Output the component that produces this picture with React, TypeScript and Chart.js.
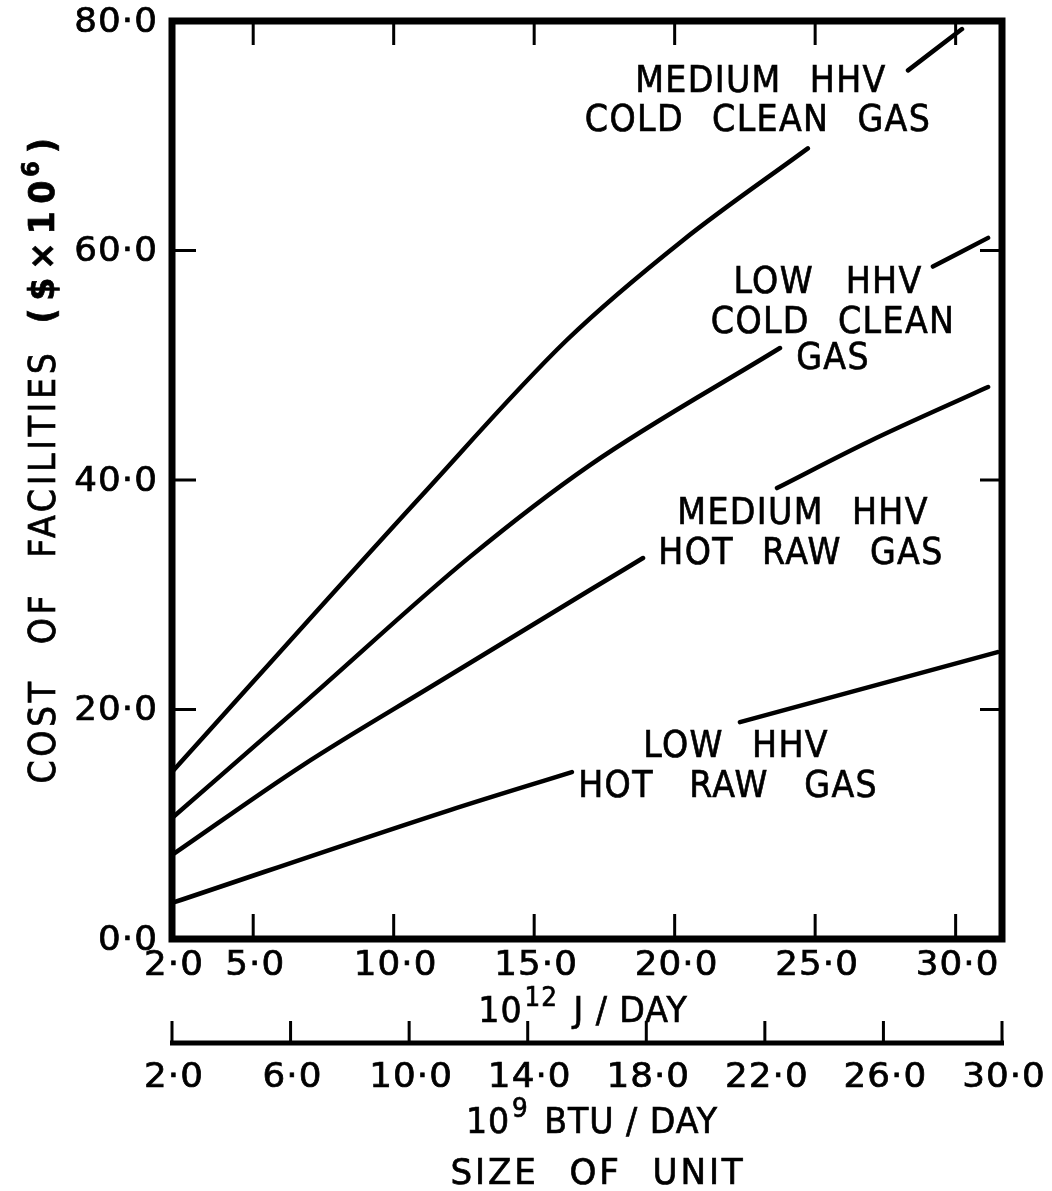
import React, { useEffect, useRef } from "react";
import { Chart, registerables } from "chart.js";

Chart.register(...registerables);

// ---- axis ranges & ticks ----
const BTU_MIN = 2;
const BTU_MAX = 30;
const J_PER_BTU = 1.055; // 10^9 BTU/day -> 10^12 J/day
const costTicks = [0, 20, 40, 60, 80];
const costTickLabels = ["0·0", "20·0", "40·0", "60·0", "80·0"];
const jTicks = [5, 10, 15, 20, 25, 30];
const jTickLabels = ["5·0", "10·0", "15·0", "20·0", "25·0", "30·0"];
const btuTicks = [2, 6, 10, 14, 18, 22, 26, 30];
const btuTickLabels = ["2·0", "6·0", "10·0", "14·0", "18·0", "22·0", "26·0", "30·0"];

// ---- series (x: 10^9 BTU/day, y: $ x 10^6); null = gap where the label sits ----
const medColdX = [2, 10.37, 15.32, 19.24, 23.45, 25.1, 26.83, 28.65];
const medColdY = [14.55, 38.5, 52.2, 60.9, 68.9, null, 75.7, 79.3];

const lowColdX = [2, 6.55, 12.05, 16.1, 22.51, 25.1, 27.67, 29.53];
const lowColdY = [10.54, 20.8, 33.3, 41.3, 51.5, null, 58.6, 61.1];

const medHotX = [2, 6.42, 10.94, 16.1, 17.89, 20.1, 22.41, 25.55, 29.53];
const medHotY = [7.32, 15.16, 22.31, 30.41, 33.2, null, 39.3, 43.4, 48.1];

const lowHotX = [2, 11.38, 15.49, 18.3, 21.16, 29.85];
const lowHotY = [3.14, 11.24, 14.55, null, 18.9, 25.0];

// ---- curve labels (anchor in data units) ----
const curveLabels = [
  { x: 21.87, y: 74.68, text: "MEDIUM HHV", ws: 18 },
  { x: 21.77, y: 71.29, text: "COLD CLEAN GAS", ws: 18 },
  { x: 24.13, y: 57.17, text: "LOW HHV", ws: 22 },
  { x: 24.3, y: 53.68, text: "COLD CLEAN", ws: 18 },
  { x: 24.3, y: 50.55, text: "GAS", ws: 18 },
  { x: 23.29, y: 37.04, text: "MEDIUM HHV", ws: 18 },
  { x: 23.22, y: 33.55, text: "HOT RAW GAS", ws: 18 },
  { x: 21.03, y: 16.73, text: "LOW HHV", ws: 18 },
  { x: 20.76, y: 13.25, text: "HOT RAW GAS", ws: 26 },
];

const FONT = "'DejaVu Sans', 'Liberation Sans', sans-serif";

function pts(xs: number[], ys: (number | null)[]) {
  return xs.map((x, i) => ({ x, y: ys[i] }));
}

type TOpt = {
  size: number;
  sx?: number;
  bold?: boolean;
  ls?: number;
  ws?: number;
  align?: "left" | "center" | "right";
  baseline?: "middle" | "alphabetic";
  stroke?: number;
};

function setFont(ctx: any, o: TOpt) {
  ctx.font = `${o.bold ? "bold " : ""}${o.size}px ${FONT}`;
  try {
    ctx.letterSpacing = (o.ls || 0) + "px";
    ctx.wordSpacing = (o.ws || 0) + "px";
  } catch (e) {}
}

function measure(ctx: any, s: string, o: TOpt) {
  ctx.save();
  setFont(ctx, o);
  const w = ctx.measureText(s).width * (o.sx || 1);
  ctx.restore();
  return w;
}

function txt(ctx: any, s: string, x: number, y: number, o: TOpt) {
  ctx.save();
  ctx.translate(x, y);
  ctx.scale(o.sx || 1, 1);
  setFont(ctx, o);
  ctx.textAlign = o.align || "center";
  ctx.textBaseline = o.baseline || "middle";
  ctx.fillText(s, 0, 0);
  const st = o.stroke === undefined ? 0.7 : o.stroke;
  if (st > 0) {
    ctx.lineWidth = st;
    ctx.strokeText(s, 0, 0);
  }
  ctx.restore();
}

const TICK: TOpt = { size: 34, sx: 1.05, ls: 1 };
const LAB: TOpt = { size: 37, sx: 0.9, ls: 1.5, ws: 18 };

const decorPlugin = {
  id: "decor",
  afterDraw(chart: any) {
    const { ctx, chartArea: a, scales } = chart;
    const xs = scales.x;
    const ys = scales.y;
    const xj = scales.xJ;
    ctx.save();
    ctx.strokeStyle = "#000";
    ctx.fillStyle = "#000";
    ctx.lineCap = "butt";

    // frame
    ctx.lineWidth = 7;
    ctx.strokeRect(a.left, a.top, a.right - a.left, a.bottom - a.top);

    // inward ticks
    ctx.lineWidth = 3;
    ctx.beginPath();
    for (const v of jTicks) {
      const px = xj.getPixelForValue(v);
      ctx.moveTo(px, a.bottom);
      ctx.lineTo(px, a.bottom - 25);
      ctx.moveTo(px, a.top);
      ctx.lineTo(px, a.top + 24);
    }
    for (const v of costTicks.slice(1, -1)) {
      const py = ys.getPixelForValue(v);
      ctx.moveTo(a.left, py);
      ctx.lineTo(a.left + 24, py);
      ctx.moveTo(a.right, py);
      ctx.lineTo(a.right - 22, py);
    }
    ctx.stroke();

    // y tick labels
    costTicks.forEach((v, i) => {
      txt(ctx, costTickLabels[i], a.left - 14, ys.getPixelForValue(v) + 2, { ...TICK, align: "right" });
    });

    // J axis tick labels
    txt(ctx, "2·0", xs.getPixelForValue(BTU_MIN) + 2, a.bottom + 27, TICK);
    jTicks.forEach((v, i) => {
      txt(ctx, jTickLabels[i], xj.getPixelForValue(v) + 2, a.bottom + 27, TICK);
    });

    // power-of-ten titles
    const drawPower = (base: string, exp: string, rest: string, cx: number, baseY: number) => {
      const ob: TOpt = { size: 35, sx: 0.95, ls: 1, ws: 14, align: "left", baseline: "alphabetic" };
      const oe: TOpt = { size: 26, sx: 0.95, ls: 1, align: "left", baseline: "alphabetic" };
      const wb = measure(ctx, base, ob);
      const we = measure(ctx, exp, oe);
      const wr = measure(ctx, rest, ob);
      let x0 = cx - (wb + we + wr + 6) / 2;
      txt(ctx, base, x0, baseY, ob);
      txt(ctx, exp, x0 + wb + 2, baseY - 16, oe);
      txt(ctx, rest, x0 + wb + we + 6, baseY, ob);
    };
    drawPower("10", "12", " J / DAY", 583, 1022);

    // BTU axis
    const btuY = 1043;
    const bl = xs.getPixelForValue(BTU_MIN);
    const br = xs.getPixelForValue(BTU_MAX);
    ctx.lineWidth = 5;
    ctx.beginPath();
    ctx.moveTo(bl - 2, btuY);
    ctx.lineTo(br + 2, btuY);
    ctx.stroke();
    ctx.lineWidth = 3;
    ctx.beginPath();
    for (const v of btuTicks) {
      const px = xs.getPixelForValue(v);
      ctx.moveTo(px, btuY);
      ctx.lineTo(px, btuY - 22);
    }
    ctx.stroke();
    btuTicks.forEach((v, i) => {
      txt(ctx, btuTickLabels[i], xs.getPixelForValue(v) + 2, btuY + 35, TICK);
    });
    drawPower("10", "9", " BTU / DAY", 592, 1133);

    txt(ctx, "SIZE OF UNIT", 598, 1184, { size: 36, sx: 0.95, ls: 3, ws: 18, baseline: "alphabetic" });

    // curve labels
    for (const l of curveLabels) {
      txt(ctx, l.text, xs.getPixelForValue(l.x), ys.getPixelForValue(l.y), { ...LAB, ws: l.ws });
    }

    // y title (rotated)
    ctx.save();
    ctx.translate(45, 457);
    ctx.rotate(-Math.PI / 2);
    const o1: TOpt = { size: 37, sx: 0.9, ls: 4, ws: 22, align: "left" };
    const o2: TOpt = { size: 35, sx: 0.95, ls: 8, bold: true, align: "left" };
    const o3: TOpt = { size: 24, sx: 0.95, bold: true, align: "left" };
    const t1 = "COST OF FACILITIES";
    const t2 = "($×10";
    const t3 = "6";
    const t4 = ")";
    const w1 = measure(ctx, t1, o1);
    const w2 = measure(ctx, t2, o2);
    const w3 = measure(ctx, t3, o3);
    const w4 = measure(ctx, t4, o2);
    const gap = 26;
    let x0 = -(w1 + gap + w2 + w3 + w4 + 4) / 2;
    txt(ctx, t1, x0, 0, o1);
    x0 += w1 + gap;
    txt(ctx, t2, x0, 0, o2);
    x0 += w2;
    txt(ctx, t3, x0 - 4, -12, o3);
    x0 += w3 + 4;
    txt(ctx, t4, x0, 0, o2);
    ctx.restore();

    ctx.restore();
  },
};

export default function App() {
  const ref = useRef<HTMLCanvasElement | null>(null);
  useEffect(() => {
    document.body.style.margin = "0";
    const canvas = ref.current!;
    const line = (data: any) => ({
      data,
      borderColor: "#000",
      borderWidth: 4.5,
      pointRadius: 0,
      fill: false,
      spanGaps: false,
      cubicInterpolationMode: "monotone" as const,
      borderCapStyle: "round" as const,
      xAxisID: "x",
      yAxisID: "y",
    });
    const chart = new Chart(canvas, {
      type: "line",
      data: {
        datasets: [
          { label: "Medium HHV cold clean gas", ...line(pts(medColdX, medColdY)) },
          { label: "Low HHV cold clean gas", ...line(pts(lowColdX, lowColdY)) },
          { label: "Medium HHV hot raw gas", ...line(pts(medHotX, medHotY)) },
          { label: "Low HHV hot raw gas", ...line(pts(lowHotX, lowHotY)) },
        ],
      },
      options: {
        animation: false,
        responsive: false,
        devicePixelRatio: 1,
        layout: { padding: { left: 172, top: 21, right: 50, bottom: 252 } },
        plugins: { legend: { display: false }, tooltip: { enabled: false } },
        scales: {
          x: { type: "linear", min: BTU_MIN, max: BTU_MAX, display: false },
          xJ: { type: "linear", axis: "x", min: BTU_MIN * J_PER_BTU, max: BTU_MAX * J_PER_BTU, display: false },
          y: { type: "linear", min: 0, max: 80, display: false },
        },
      },
      plugins: [decorPlugin],
    });
    return () => chart.destroy();
  }, []);
  return (
    <div style={{ position: "absolute", left: 0, top: 0, width: 1052, height: 1191, background: "#fff" }}>
      <canvas ref={ref} width={1052} height={1191} style={{ display: "block" }} />
    </div>
  );
}
